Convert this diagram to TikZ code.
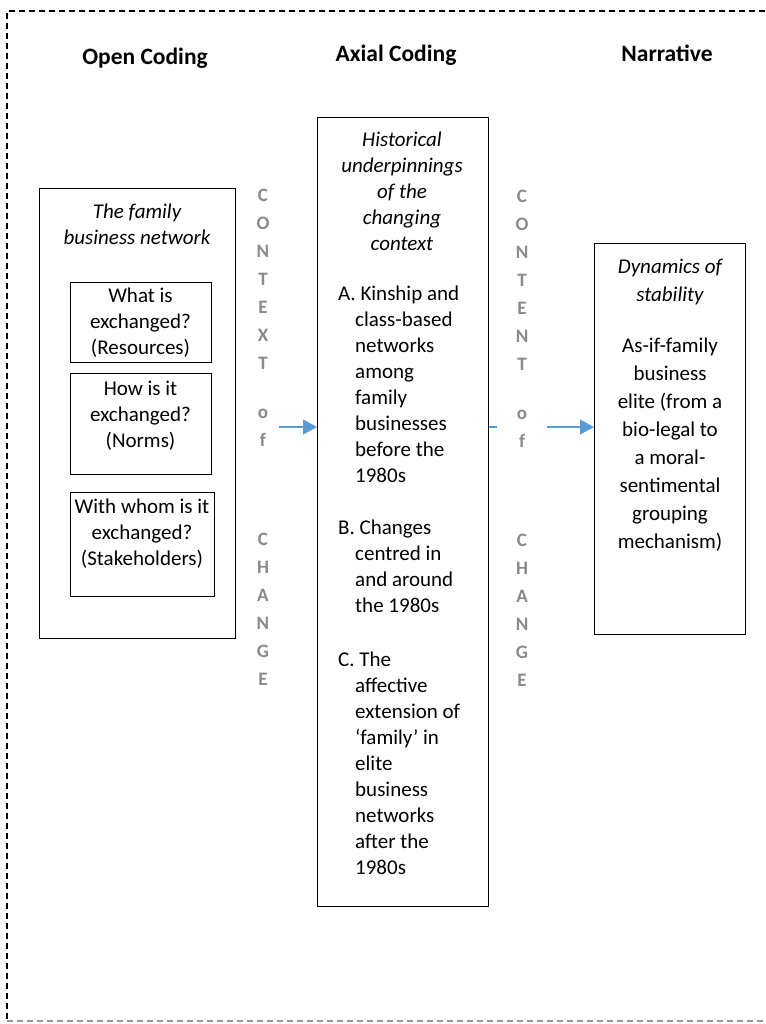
\documentclass[tikz,border=0pt]{standalone}
\usepackage{fontspec}
\setmainfont{Carlito}
\usetikzlibrary{arrows.meta}
\definecolor{arrowblue}{HTML}{5B9BD5}
\definecolor{lettergray}{HTML}{8A8A8A}
\definecolor{framegray}{HTML}{9A9A9A}
\newcommand\hin{\hspace*{17pt}}
\begin{document}
\begin{tikzpicture}[x=1pt,y=-1pt,
  box/.style={draw=black,line width=1.3pt,rectangle,inner sep=0pt,anchor=north west},
  body/.style={font=\fontsize{21}{26}\selectfont,align=center,inner sep=0pt,anchor=base},
  bodyl/.style={font=\fontsize{21}{26}\selectfont,align=left,inner sep=0pt,anchor=base west},
  title/.style={font=\fontsize{23.5}{28}\selectfont\bfseries,inner sep=0pt,anchor=base},
  letters/.style={font=\fontsize{19}{28}\selectfont\bfseries,text=lettergray,align=center,inner sep=0pt,anchor=base},
  arr/.style={draw=arrowblue,line width=1.4pt,-{Triangle[length=14pt,width=15pt,fill=arrowblue]}},
  frame/.style={line width=1.2pt,dash pattern=on 6pt off 4pt}]
\useasboundingbox (0,0) rectangle (765,1024);
% dashed frame
\coordinate (ftl) at (7,11);
\coordinate (ftr) at (765,11);
\coordinate (fbl) at (7,1021);
\coordinate (fbr) at (765,1021);
\draw[frame,black] (ftr) -- (ftl) -- (fbl);
\draw[frame,framegray] (fbl) -- (fbr);
% titles
\node[title] (t1) at (145,65) {Open Coding};
\node[title] (t2) at (396,62) {Axial Coding};
\node[title] (t3) at (667,62) {Narrative};
% boxes
\node[box,minimum width=196,minimum height=450] (left) at (39,188) {};
\node[box,minimum width=141,minimum height=80] (b1) at (70,282) {};
\node[box,minimum width=141,minimum height=101] (b2) at (70,373) {};
\node[box,minimum width=144,minimum height=104] (b3) at (70,492) {};
\node[box,minimum width=171,minimum height=789] (mid) at (317,117) {};
\node[box,minimum width=151,minimum height=391] (right) at (594,243) {};
% left texts (anchor = baseline of last line)
\node[body,font=\fontsize{21}{26}\selectfont\itshape] (lh) at (137,244) {The family\\business network};
\node[body] (b1t) at (140.5,354) {What is\\exchanged?\\(Resources)};
\node[body] (b2t) at (140.5,447) {How is it\\exchanged?\\(Norms)};
\node[body] (b3t) at (142,565) {With whom is it\\exchanged?\\(Stakeholders)};
% middle texts
\node[body,font=\fontsize{21}{26}\selectfont\itshape] (mh) at (402,251) {Historical\\underpinnings\\of the\\changing\\context};
\node[bodyl] (ma) at (338,482) {A.\ Kinship and\\\hin class-based\\\hin networks\\\hin among\\\hin family\\\hin businesses\\\hin before the\\\hin 1980s};
\node[bodyl] (mb) at (338,612) {B.\ Changes\\\hin centred in\\\hin and around\\\hin the 1980s};
\node[bodyl] (mc) at (338,874) {C.\ The\\\hin affective\\\hin extension of\\\hin ‘family’ in\\\hin elite\\\hin business\\\hin networks\\\hin after the\\\hin 1980s};
% right texts
\node[body,font=\fontsize{21}{28}\selectfont\itshape] (rh) at (670,301) {Dynamics of\\stability};
\node[body,font=\fontsize{21}{28}\selectfont] (rb) at (670,548) {As-if-family\\business\\elite (from a\\bio-legal to\\a moral-\\sentimental\\grouping\\mechanism)};
% arrows
\coordinate (ay) at (0,427);
\node[inner sep=0pt,minimum width=32,minimum height=40] (ofAbox) at (263,427) {};
\draw[arr] (ofAbox.east |- ay) -- (mid.west |- ay);
\draw[arr] (mid.east |- ay) -- (right.west |- ay);
\node[fill=white,inner sep=0pt,minimum width=50,minimum height=40] (ofBbox) at (522,427) {};
% vertical letters
\node[letters] (ctxA) at (263,369) {C\\O\\N\\T\\E\\X\\T};
\node[letters] (ofA) at (263,446) {o\\f};
\node[letters] (chgA) at (263,685) {C\\H\\A\\N\\G\\E};
\node[letters] (ctxB) at (522,370) {C\\O\\N\\T\\E\\N\\T};
\node[letters] (ofB) at (522,447) {o\\f};
\node[letters] (chgB) at (522,686) {C\\H\\A\\N\\G\\E};
\end{tikzpicture}
\end{document}
